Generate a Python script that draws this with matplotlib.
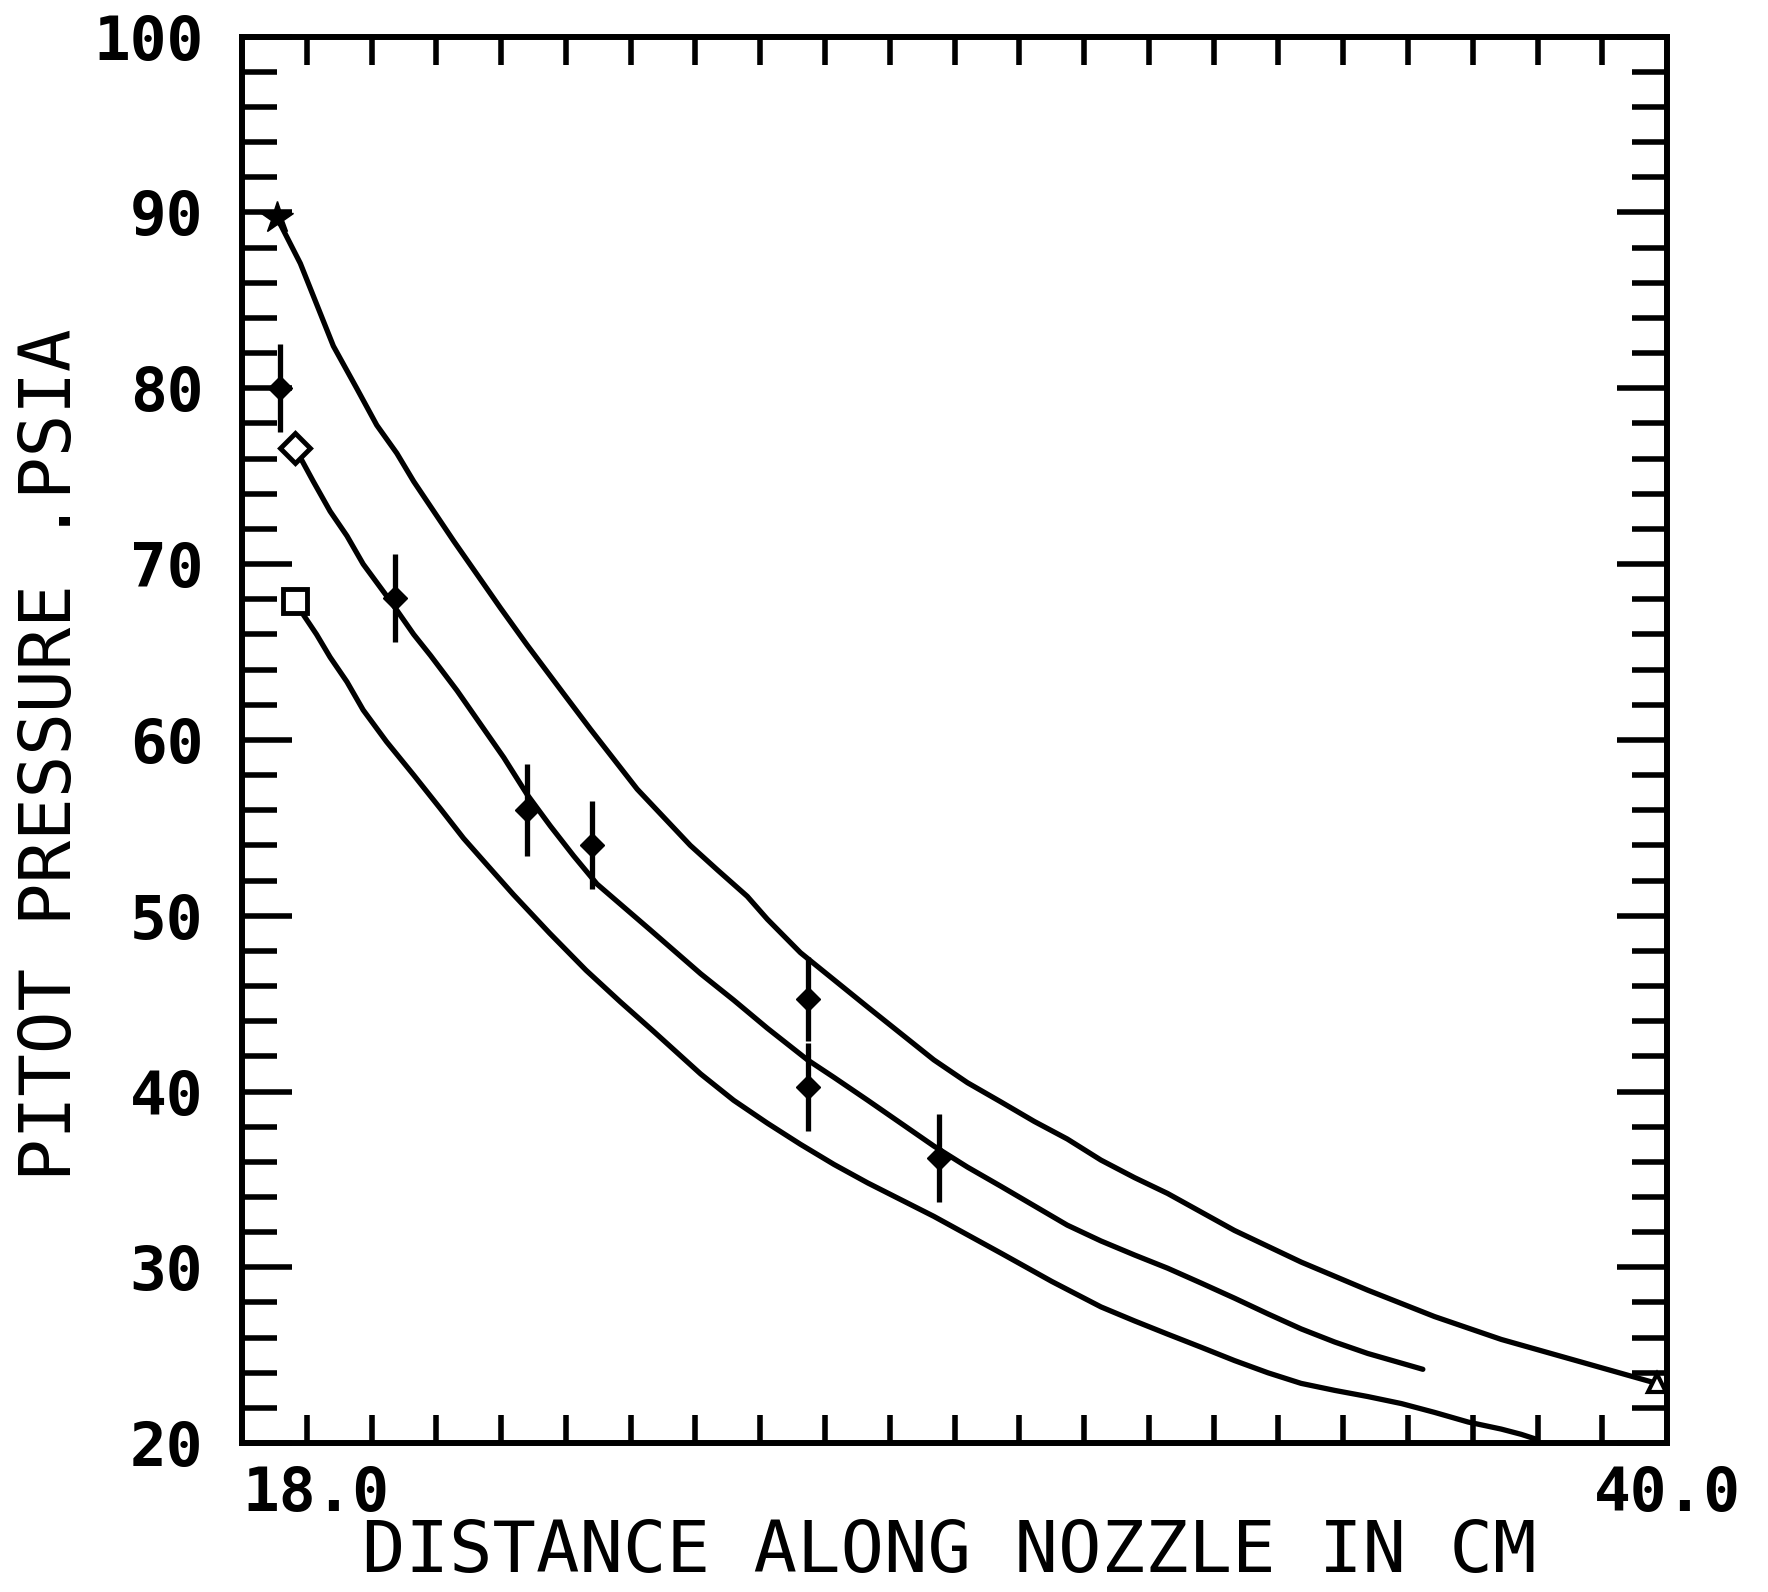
import matplotlib
matplotlib.use("Agg")
import matplotlib.pyplot as plt
import numpy as np

# pitot pressure traces along the nozzle (cm, psia)
upper_x = [18.54, 18.90, 19.41, 19.77, 20.08, 20.39, 20.65, 20.96, 21.27, 21.63,
           21.99, 22.40, 22.97, 23.38, 23.74, 24.10, 24.51, 24.92, 25.34, 25.80,
           26.11, 26.62, 27.14, 27.66, 28.17, 28.68, 29.20, 29.72, 30.23, 30.74,
           31.26, 31.78, 32.29, 33.32, 34.35, 35.38, 36.41, 37.44, 38.40, 39.84]
upper_y = [89.7, 87.1, 82.4, 80.0, 77.9, 76.3, 74.7, 73.0, 71.3, 69.4,
           67.5, 65.4, 62.6, 60.6, 58.9, 57.2, 55.6, 54.0, 52.6, 51.1,
           49.8, 47.9, 46.35, 44.8, 43.3, 41.8, 40.5, 39.4, 38.3, 37.3,
           36.1, 35.1, 34.2, 32.1, 30.3, 28.7, 27.2, 25.9, 24.9, 23.4]

mid_x = [18.82, 19.10, 19.36, 19.62, 19.87, 20.29, 20.65, 20.91, 21.32, 21.68,
         22.04, 22.40, 22.76, 23.12, 23.48, 24.30, 25.08, 25.59, 26.11, 26.73,
         27.14, 27.66, 28.17, 28.68, 29.20, 29.72, 30.23, 30.74, 31.26, 31.78,
         32.29, 32.81, 33.32, 33.84, 34.35, 34.87, 35.38, 36.23]
mid_y = [76.6, 74.7, 73.0, 71.6, 70.0, 67.9, 66.0, 64.8, 62.8, 60.9,
         59.0, 56.9, 55.1, 53.4, 51.8, 49.2, 46.7, 45.2, 43.6, 41.8,
         40.8, 39.5, 38.2, 36.9, 35.7, 34.6, 33.5, 32.4, 31.5, 30.7,
         29.95, 29.1, 28.25, 27.35, 26.5, 25.75, 25.1, 24.2]

lower_x = [18.82, 18.95, 19.15, 19.36, 19.62, 19.87, 20.23, 20.65, 21.06, 21.42,
           21.78, 22.19, 22.75, 23.31, 23.84, 24.36, 25.08, 25.59, 26.11, 26.62,
           27.14, 27.66, 28.17, 28.68, 29.20, 29.72, 30.50, 31.26, 31.78, 32.29,
           32.81, 33.32, 33.84, 34.35, 34.87, 35.38, 35.90, 36.41, 36.93, 37.44,
           37.75, 38.00]
lower_y = [67.9, 67.1, 66.0, 64.7, 63.3, 61.7, 59.9, 58.0, 56.1, 54.4,
           52.9, 51.2, 49.0, 46.9, 45.1, 43.4, 41.0, 39.5, 38.2, 37.0,
           35.85, 34.8, 33.85, 32.9, 31.85, 30.8, 29.2, 27.75, 26.95, 26.2,
           25.45, 24.7, 24.0, 23.4, 23.0, 22.65, 22.25, 21.75, 21.2, 20.8,
           20.5, 20.2]

# measured points with error bars
meas_x = [18.59, 20.36, 22.40, 23.41, 26.73, 26.73, 28.76]
meas_y = [80.0, 68.05, 56.0, 54.0, 45.25, 40.25, 36.2]
meas_err = [2.5, 2.5, 2.6, 2.5, 2.4, 2.5, 2.5]

y_labels = [20, 30, 40, 50, 60, 70, 80, 90, 100]

plt.rcParams["font.family"] = ["DejaVu Sans Mono"]

fig = plt.figure(figsize=(17.68, 15.92), dpi=100)
ax = fig.add_axes([0.1369, 0.0935, 0.806, 0.8835])

lw = 3.8
for xs, ys in [(upper_x, upper_y), (mid_x, mid_y), (lower_x, lower_y)]:
    ax.plot(xs, ys, color="black", lw=lw, solid_capstyle="round",
            solid_joinstyle="round")

ax.errorbar(meas_x, meas_y, yerr=meas_err, fmt="D", color="black", ms=12,
            elinewidth=lw, capsize=0, zorder=5)

# curve symbols
ax.plot(upper_x[0], upper_y[0], marker="*", color="black", ms=24, zorder=6)
ax.plot(upper_x[-1], upper_y[-1], marker="^", mfc="white", mec="black",
        mew=3, ms=13, zorder=6, clip_on=False)
ax.plot(mid_x[0], mid_y[0], marker="D", mfc="white", mec="black",
        mew=3.5, ms=15, zorder=6)
ax.plot(lower_x[0], lower_y[0], marker="s", mfc="white", mec="black",
        mew=3.5, ms=17, zorder=6)

ax.set_xlim(18, 40)
ax.set_ylim(20, 100)

for s in ax.spines.values():
    s.set_linewidth(4.3)

# x axis: only end labels, plain ticks each cm
ax.set_xticks([18, 40])
ax.set_xticklabels(["18.0", "40.0"], fontweight="bold")
ax.set_xticks(np.arange(19, 40), minor=True)
ax.get_xticklabels()[0].set_ha("left")
ax.tick_params(axis="x", which="major", length=0, pad=16, labelsize=44)
ax.tick_params(axis="x", which="minor", direction="in", length=20, width=4,
               top=True, bottom=True)

# y axis: long ticks every 10, short ticks every 2
ax.set_yticks(y_labels)
ax.set_yticklabels([str(v) for v in y_labels], fontweight="bold")
ax.set_yticks([v for v in range(22, 100, 2) if v % 10], minor=True)
ax.tick_params(axis="y", which="major", direction="in", length=36, width=4,
               left=True, right=True, pad=28, labelsize=44)
ax.tick_params(axis="y", which="minor", direction="in", length=25, width=4,
               left=True, right=True)

fig.text(0.537, 0.0245, "DISTANCE ALONG NOZZLE IN CM", ha="center",
         va="center", fontsize=52)
fig.text(0.029, 0.526, "PITOT PRESSURE .PSIA", rotation=90, ha="center",
         va="center", fontsize=51)

fig.savefig("out.png", dpi=100, facecolor="white")
